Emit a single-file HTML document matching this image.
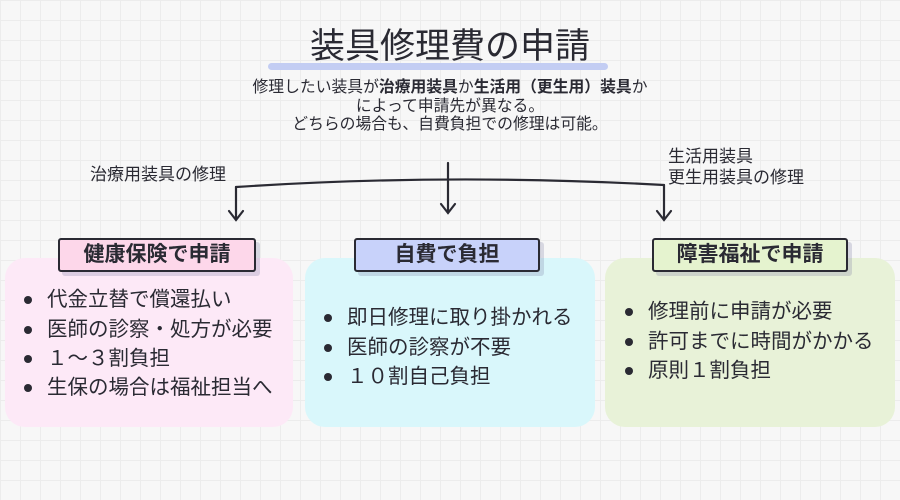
<!DOCTYPE html>
<html><head><meta charset="utf-8"><style>
body{margin:0;width:900px;height:500px;overflow:hidden;background:#f7f7f7;
background-image:linear-gradient(#ececec 1px,transparent 1px),linear-gradient(90deg,#ececec 1px,transparent 1px);background-size:20px 20px;
font-family:"Liberation Sans","Noto Sans CJK JP",sans-serif;color:#2a2a33;position:relative}
.a{position:absolute;white-space:nowrap}
.box{position:absolute;top:258px;height:169px;border-radius:20px}
.tag{position:absolute;height:30px;border:2px solid #2a2a33;border-radius:3px;font-weight:bold;font-size:21px;line-height:30px;text-align:center;box-shadow:4px 4px 0 rgba(120,120,160,.25)}
.li{position:absolute;font-size:20.5px;line-height:30px;white-space:nowrap}
.li b{position:absolute;left:-23px;top:11px;width:8px;height:8px;border-radius:50%;background:#2a2a33}
</style></head><body>
<div class="a" style="left:268px;top:63px;width:340px;height:7px;background:#c3cdf3;border-radius:4px"></div>
<div class="a" style="left:0;width:900px;top:24px;text-align:center;font-size:35px;line-height:46px;color:#2a2a33">装具修理費の申請</div>
<div class="a" style="left:0;width:900px;top:79px;text-align:center;font-size:15.8px;line-height:18.5px;color:#2a2a33">修理したい装具が<b>治療用装具</b>か<b>生活用（更生用）装具</b>か<br>によって申請先が異なる。<br>どちらの場合も、自費負担での修理は可能。</div>
<div class="a" style="left:90px;top:160px;font-size:17px">治療用装具の修理</div>
<div class="a" style="left:668px;top:146px;font-size:17px;line-height:21px">生活用装具<br>更生用装具の修理</div>
<svg class="a" style="left:0;top:0" width="900" height="500" fill="none" stroke="#2a2a33" stroke-width="2.2" stroke-linecap="round">
<path d="M236 187 Q448 173 664 185"/>
<path d="M236 187 V220 M229 211 L236 220 L243 211"/>
<path d="M448 163 V213 M441 204 L448 213 L455 204"/>
<path d="M664 185 V220 M657 211 L664 220 L671 211"/>
</svg>
<div class="box" style="left:5px;width:288px;background:#fde9f7"></div>
<div class="box" style="left:305px;width:290px;background:#d9f7fb"></div>
<div class="box" style="left:605px;width:290px;background:#e8f2d8"></div>
<div class="tag" style="left:58px;top:238px;width:194px;background:#fdd7ea">健康保険で申請</div>
<div class="tag" style="left:354px;top:238px;width:182px;background:#c8d2fa">自費で負担</div>
<div class="tag" style="left:652px;top:238px;width:192px;background:#e5f3cf">障害福祉で申請</div>
<div class="li" style="left:47px;top:285px"><b></b>代金立替で償還払い</div>
<div class="li" style="left:47px;top:315px"><b></b>医師の診察・処方が必要</div>
<div class="li" style="left:47px;top:344px"><b></b>１～３割負担</div>
<div class="li" style="left:47px;top:373px"><b></b>生保の場合は福祉担当へ</div>
<div class="li" style="left:347px;top:303px"><b></b>即日修理に取り掛かれる</div>
<div class="li" style="left:347px;top:333px"><b></b>医師の診察が不要</div>
<div class="li" style="left:347px;top:362px"><b></b>１０割自己負担</div>
<div class="li" style="left:648px;top:297px"><b></b>修理前に申請が必要</div>
<div class="li" style="left:648px;top:327px"><b></b>許可までに時間がかかる</div>
<div class="li" style="left:648px;top:356px"><b></b>原則１割負担</div>
</body></html>
